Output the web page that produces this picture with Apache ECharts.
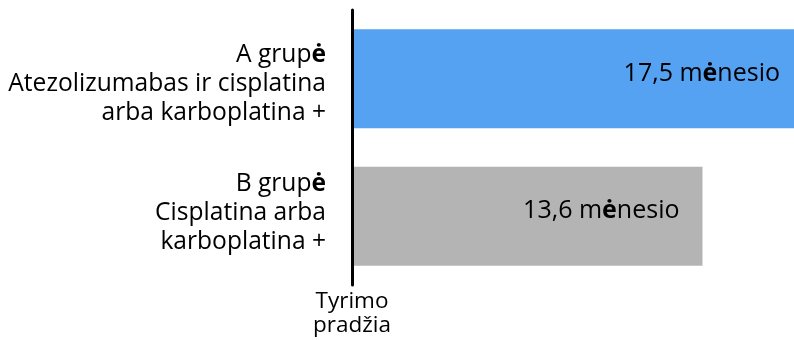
<!DOCTYPE html>
<html lang="lt">
<head>
  <meta charset="UTF-8">
  <title>Išgyvenamumas</title>
  <style>
    html, body { margin: 0; padding: 0; background: #fff; overflow: hidden; }
    /* ilgesnė juosta baigiasi už kadro krašto, kaip originale */
    #chart { width: 803px; height: 340px; }
  </style>
</head>
<body>
  <div id="chart"></div>
  <script src="https://cdn.jsdelivr.net/npm/echarts@6.0.0/dist/echarts.min.js"></script>
  <script>
    // duomenys
    const categories = ['A', 'B']
    const groupTitles = ['A grupė', 'B grupė']
    const groupLines = [
      ['Atezolizumabas ir cisplatina', 'arba karboplatina +'],
      ['Cisplatina arba', 'karboplatina +']
    ]
    const values = [17.5, 13.6]
    const valueTexts = ['17,5 mėnesio', '13,6 mėnesio']
    const barColors = ['#55A1F2', '#B4B4B4']
    const startLabel = 'Tyrimo\npradžia'

    const FONT = '"Open Sans", "Noto Sans", sans-serif'

    // "ė" paryškinta, kaip originale
    const richE = (s, key) => s.split('ė').map(p => p ? `{${key}|${p}}` : '').join('{b' + key + '|ė}')

    const chart = echarts.init(document.getElementById('chart'))

    chart.setOption({
      animation: false,
      grid: { left: 352, right: 0, top: 10, bottom: 55 },
      xAxis: {
        type: 'value',
        min: 0,
        max: 'dataMax',
        interval: 17.5,
        splitLine: { show: false },
        axisLine: { show: false },
        axisTick: { show: false },
        axisLabel: {
          showMaxLabel: false,
          margin: 5,
          fontFamily: FONT,
          fontSize: 22.5,
          lineHeight: 24,
          color: '#000',
          formatter: v => v === 0 ? startLabel : ''
        }
      },
      yAxis: {
        type: 'category',
        inverse: true,
        data: categories.map((c, i) => ({
          value: c,
          textStyle: { padding: i === 0 ? [10, 0, 0, 0] : [0, 0, 6, 0] }
        })),
        z: 5,
        axisLine: { lineStyle: { color: '#000', width: 3 } },
        axisTick: { show: false },
        axisLabel: {
          margin: 26,
          align: 'right',
          formatter: (v, idx) => [richE(groupTitles[idx], 'l'), ...groupLines[idx].map(s => `{l|${s}}`)].join('\n'),
          rich: {
            l: { fontFamily: FONT, fontSize: 24.6, lineHeight: 29, color: '#000' },
            bl: { fontFamily: FONT, fontSize: 24.6, lineHeight: 29, color: '#000', fontWeight: 'bold' }
          }
        }
      },
      series: [{
        type: 'bar',
        barWidth: 99,
        data: values.map((v, i) => ({ value: v, itemStyle: { color: barColors[i] } })),
        label: {
          show: true,
          position: 'insideRight',
          distance: 23,
          offset: [0, -5],
          formatter: p => richE(valueTexts[p.dataIndex], 'v'),
          rich: {
            v: { fontFamily: FONT, fontSize: 25, color: '#000' },
            bv: { fontFamily: FONT, fontSize: 25, color: '#000', fontWeight: 'bold' }
          }
        }
      }]
    })
  </script>
</body>
</html>
